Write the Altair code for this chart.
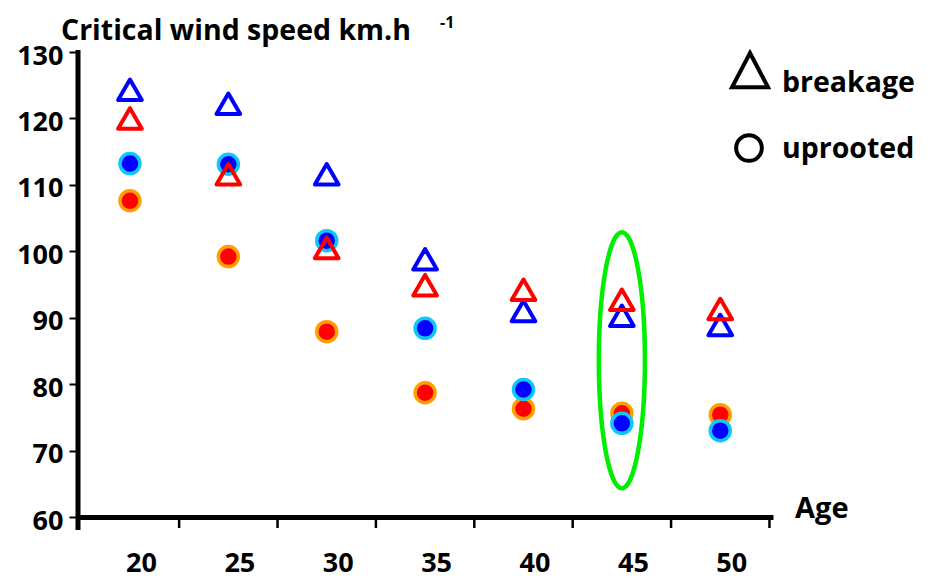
import altair as alt
import pandas as pd

# ---- data ----
ages = [20, 25, 30, 35, 40, 45, 50]
breakage_blue = [124.3, 122.2, 111.6, 98.8, 91.0, 90.3, 88.9]
breakage_red = [120.0, 111.6, 100.5, 94.9, 94.2, 92.7, 91.3]
uprooted_blue = [113.2, 113.1, 101.6, 88.4, 79.2, 74.1, 73.0]
uprooted_red = [107.6, 99.2, 87.9, 78.7, 76.3, 75.6, 75.4]
y_ticks = [60, 70, 80, 90, 100, 110, 120, 130]
x_boundaries = [22.5, 27.5, 32.5, 37.5, 42.5, 47.5, 52.5]
highlight_age = [45]
highlight_value = [83.6]

title_text = "Critical wind speed km.h"
title_sup = "-1"
x_title = "Age"
legend_labels = ["breakage", "uprooted"]

FONT = "Open Sans"

df = pd.DataFrame({
    "age": ages,
    "bb": breakage_blue,
    "br": breakage_red,
    "ub": uprooted_blue,
    "ur": uprooted_red,
})

xs = alt.Scale(domain=[17.36, 52.68], nice=False, zero=False)
ys = alt.Scale(domain=[60, 130], nice=False, zero=False)

x_axis = alt.Axis(values=ages, title=None, ticks=False, tickSize=0, domain=True,
                  domainColor="black", domainWidth=5, labelOffset=11, labelPadding=33,
                  labelFont=FONT, labelFontWeight="bold", labelFontSize=27,
                  labelColor="black", grid=False)
y_axis = alt.Axis(values=y_ticks, title=None, ticks=True, tickSize=9, tickWidth=2,
                  tickColor="black", domain=False, labelPadding=6, labelOffset=4,
                  labelFont=FONT, labelFontWeight="bold", labelFontSize=27,
                  labelColor="black", grid=False)

def X(field):
    return alt.X(field, type="quantitative", scale=xs, axis=x_axis)

def Y(field):
    return alt.Y(field, type="quantitative", scale=ys, axis=y_axis)

base = alt.Chart(df)

one = pd.DataFrame({"k": [0]})

y_line = alt.Chart(one).mark_rule(color="black", strokeWidth=5).encode(
    x=alt.value(0), y=alt.value(-2), y2=alt.value(478))

bdf = pd.DataFrame({"b": x_boundaries})
btick = alt.Chart(bdf).mark_rule(color="black", strokeWidth=2.5).encode(
    x=X("b"), y=alt.value(467), y2=alt.value(476))

ell_path = ("M 0 -1 C 0.0994 -1 0.18 -0.5523 0.18 0 C 0.18 0.5523 0.0994 1 0 1 "
            "C -0.0994 1 -0.18 0.5523 -0.18 0 C -0.18 -0.5523 -0.0994 -1 0 -1 Z")
edf = pd.DataFrame({"age": highlight_age, "v": highlight_value})
ellipse = alt.Chart(edf).mark_point(shape=ell_path, size=65536, filled=False,
                                    stroke="#00ee00", strokeWidth=4.5, opacity=1).encode(
    x=X("age"), y=Y("v"))

red_c = base.mark_circle(fill="#ff0000", stroke="#ffa000", strokeWidth=3.5, size=400,
                         opacity=1).encode(x=X("age"), y=Y("ur"))
blue_c = base.mark_circle(fill="#0000ff", stroke="#10c8f8", strokeWidth=3.5, size=400,
                          opacity=1).encode(x=X("age"), y=Y("ub"))
blue_t = base.mark_point(shape="triangle-up", filled=False, stroke="#0000ff",
                         strokeWidth=4, size=560, opacity=1,
                         strokeJoin="round").encode(x=X("age"), y=Y("bb"))
red_t = base.mark_point(shape="triangle-up", filled=False, stroke="#ff0000",
                        strokeWidth=4, size=560, opacity=1,
                        strokeJoin="round").encode(x=X("age"), y=Y("br"))

def label(text, x, y, size, align="left", baseline="alphabetic"):
    return alt.Chart(pd.DataFrame({"t": [text]})).mark_text(
        font=FONT, fontWeight="bold", fontSize=size, color="black",
        align=align, baseline=baseline).encode(
        text="t:N", x=alt.value(x), y=alt.value(y))

title = label(title_text, -17, -12, 28.5)
sup = label(title_sup, 362, -24, 16)
age_t = label(x_title, 717, 466, 29)
leg1 = label(legend_labels[0], 704, 40, 28.5)
leg2 = label(legend_labels[1], 704, 106, 28.5)

leg_tri = alt.Chart(one).mark_point(shape="M 0 -1 L 1 0.9 L -1 0.9 Z", size=1296,
                                    filled=False, stroke="black", strokeWidth=4,
                                    opacity=1).encode(x=alt.value(672), y=alt.value(19))
leg_cir = alt.Chart(one).mark_point(shape="circle", size=660, filled=False,
                                    stroke="black", strokeWidth=4,
                                    opacity=1).encode(x=alt.value(671), y=alt.value(96))

chart = alt.layer(
    y_line, btick, ellipse, red_c, blue_c, blue_t, red_t,
    title, sup, age_t, leg1, leg2, leg_tri, leg_cir
).properties(
    width=695, height=465,
    autosize=alt.AutoSizeParams(type="none"),
    padding={"left": 70, "top": 44, "right": 146, "bottom": 62},
).configure_view(stroke=None)

chart.save("out.html", embed_options={"renderer": "svg", "actions": False})
